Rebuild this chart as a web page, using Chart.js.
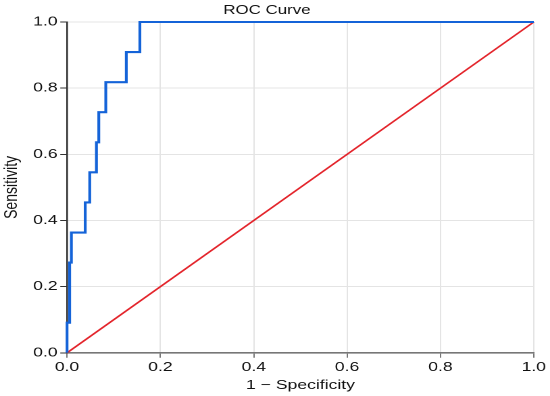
<!DOCTYPE html>
<html><head><meta charset="utf-8">
<script src="https://cdn.jsdelivr.net/npm/chart.js@4"></script>
<style>
html,body{margin:0;padding:0;background:#fff;overflow:hidden}
#w{width:407px;height:396px;transform:scaleX(1.3514);transform-origin:0 0}
</style>
</head><body><div id="w"><canvas id="c"></canvas></div>
<script>
const fpr = [0, 0, 0.0056, 0.0093, 0.039, 0.0486, 0.063, 0.068, 0.083, 0.127, 0.156, 1];
const tpr = [0, 0.0909, 0.2727, 0.3636, 0.4545, 0.5455, 0.6364, 0.7273, 0.8182, 0.9091, 1, 1];
const refX = [0, 1];
const refY = [0, 1];
const tickVals = [0, 0.2, 0.4, 0.6, 0.8, 1.0];
const tickLabels = ["0.0", "0.2", "0.4", "0.6", "0.8", "1.0"];

const fam = "'Liberation Sans', Arial, Helvetica, sans-serif";
const tickFont = {family: fam, size: 13};
new Chart(document.getElementById('c'), {
  type: 'line',
  data: {datasets: [
    {data: fpr.map((x,i)=>({x, y: tpr[i]})), borderColor: '#1463d8', borderWidth: 2.1, stepped: 'before', pointRadius: 0, fill: false, clip: 4},
    {data: refX.map((x,i)=>({x, y: refY[i]})), borderColor: '#e3232a', borderWidth: 1.5, pointRadius: 0, fill: false, clip: 4}
  ]},
  options: {
    responsive: true, maintainAspectRatio: false, animation: false, devicePixelRatio: 2,
    layout: {padding: {top: 0, right: 12, bottom: 3, left: 0}},
    plugins: {
      legend: {display: false}, tooltip: {enabled: false},
      title: {display: true, text: 'ROC Curve', color: '#111', font: {family: fam, size: 12.5, weight: 'normal'}, padding: {top: 3, bottom: 4}}
    },
    scales: {
      x: {type: 'linear', min: 0, max: 1,
        afterBuildTicks: s => { s.ticks = tickVals.map(v => ({value: v})); },
        ticks: {color: '#111', font: tickFont, padding: 2, maxRotation: 0, callback: (v) => tickLabels[tickVals.indexOf(v)] ?? ''},
        grid: {color: '#e4e4e4', lineWidth: 1, tickColor: '#777', tickLength: 5},
        border: {color: '#777', width: 1.6},
        title: {display: true, text: '1 − Specificity', color: '#111', font: {family: fam, size: 13}, padding: {top: 0, bottom: 0}}
      },
      y: {type: 'linear', min: 0, max: 1,
        afterBuildTicks: s => { s.ticks = tickVals.map(v => ({value: v})); },
        afterFit: s => { s.width = 49.6; },
        ticks: {color: '#111', font: tickFont, padding: 2, callback: (v) => tickLabels[tickVals.indexOf(v)] ?? ''},
        grid: {color: '#e4e4e4', lineWidth: 1, tickColor: '#333', tickLength: 5},
        border: {color: '#333', width: 1.3},
        title: {display: true, text: 'Sensitivity', color: '#111', font: {family: fam, size: 14}, padding: {top: 0, bottom: 0}}
      }
    }
  }
});
</script></body></html>
